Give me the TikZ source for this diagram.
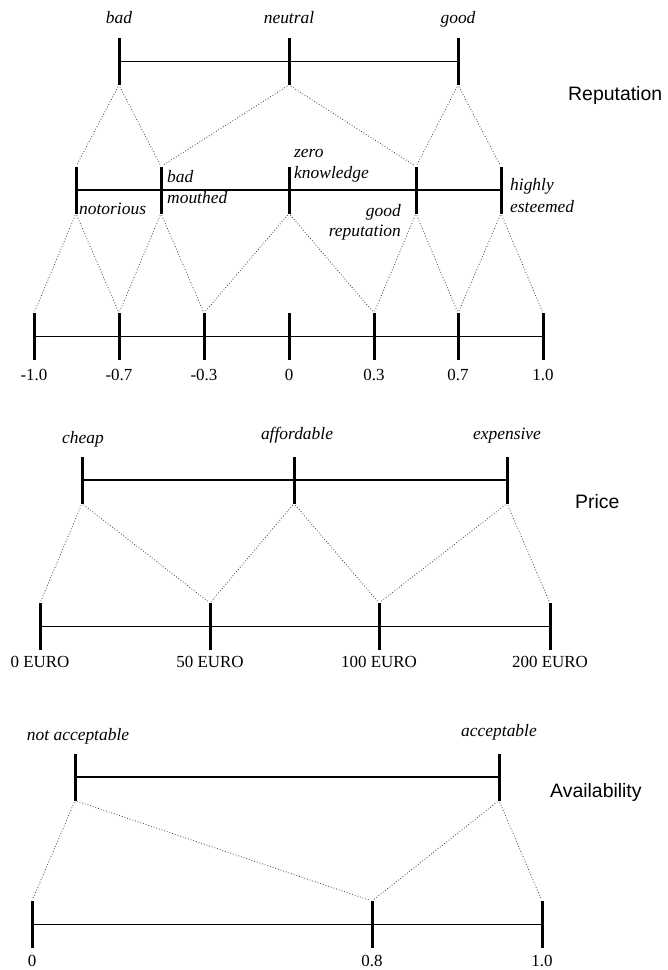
\documentclass[tikz,border=0pt]{standalone}
\usepackage{fontspec}
\setmainfont{Liberation Serif}
\newfontfamily\labsans{Liberation Sans}
\begin{document}
\begin{tikzpicture}[x=1bp,y=-1bp,
  tickbar/.style={fill=black, draw=none, inner sep=0pt, outer sep=0pt, minimum width=3bp, minimum height=47bp},
  scaleline/.style={line width=1.8bp},
  mapline/.style={dotted, line width=0.8bp, black!75, shorten <=2bp, shorten >=2bp},
  term/.style={font=\fontsize{17.5}{20}\selectfont\itshape, inner sep=0pt, anchor=base},
  terml/.style={term, anchor=base west},
  termr/.style={term, anchor=base east},
  num/.style={font=\fontsize{17}{20}\selectfont, inner sep=0pt, anchor=base},
  varname/.style={font=\labsans\fontsize{19.5}{22}\selectfont, inner sep=0pt, anchor=base west}]
\useasboundingbox[fill=white] (0,0) rectangle (668,970);

% ---------------- Reputation ----------------
\node[tickbar] (rBad)  at (119,61.5) {};
\node[tickbar] (rNeu)  at (289,61.5) {};
\node[tickbar] (rGood) at (458,61.5) {};
\draw[scaleline] (rBad.center) -- (rGood.center);
\node[term] (lBad)  at (119,23) {bad};
\node[term] (lNeu)  at (289,23) {neutral};
\node[term] (lGood) at (458,23) {good};
\node[varname] (vRep) at (568,100) {Reputation};

\node[tickbar] (mNot)  at (76,190) {};
\node[tickbar] (mBad)  at (161,190) {};
\node[tickbar] (mZero) at (289,190) {};
\node[tickbar] (mGood) at (416,190) {};
\node[tickbar] (mHigh) at (501,190) {};
\draw[scaleline] (mNot.center) -- (mHigh.center);
\node[terml] (lNot)  at (79,214) {notorious};
\node[terml] (lBm1)  at (167,182) {bad};
\node[terml] (lBm2)  at (167,203) {mouthed};
\node[terml] (lZk1)  at (294,157) {zero};
\node[terml] (lZk2)  at (294,178) {knowledge};
\node[termr] (lGr1)  at (401,216) {good};
\node[termr] (lGr2)  at (401,236) {reputation};
\node[terml] (lHe1)  at (510,190) {highly};
\node[terml] (lHe2)  at (510,212) {esteemed};

\node[tickbar] (b1) at (34,336.5) {};
\node[tickbar] (b2) at (119,336.5) {};
\node[tickbar] (b3) at (204,336.5) {};
\node[tickbar] (b4) at (289,336.5) {};
\node[tickbar] (b5) at (374,336.5) {};
\node[tickbar] (b6) at (458,336.5) {};
\node[tickbar] (b7) at (543,336.5) {};
\draw[scaleline] (b1.center) -- (b7.center);
\node[num] (n1) at (34,380) {-1.0};
\node[num] (n2) at (119,380) {-0.7};
\node[num] (n3) at (204,380) {-0.3};
\node[num] (n4) at (289,380) {0};
\node[num] (n5) at (374,380) {0.3};
\node[num] (n6) at (458,380) {0.7};
\node[num] (n7) at (543,380) {1.0};

\draw[mapline] (rBad.south) -- (mNot.north);
\draw[mapline] (rBad.south) -- (mBad.north);
\draw[mapline] (rNeu.south) -- (mBad.north);
\draw[mapline] (rNeu.south) -- (mGood.north);
\draw[mapline] (rGood.south) -- (mGood.north);
\draw[mapline] (rGood.south) -- (mHigh.north);

\draw[mapline] (mNot.south) -- (b1.north);
\draw[mapline] (mNot.south) -- (b2.north);
\draw[mapline] (mBad.south) -- (b2.north);
\draw[mapline] (mBad.south) -- (b3.north);
\draw[mapline] (mZero.south) -- (b3.north);
\draw[mapline] (mZero.south) -- (b5.north);
\draw[mapline] (mGood.south) -- (b5.north);
\draw[mapline] (mGood.south) -- (b6.north);
\draw[mapline] (mHigh.south) -- (b6.north);
\draw[mapline] (mHigh.south) -- (b7.north);

% ---------------- Price ----------------
\node[tickbar] (pCheap) at (82,480) {};
\node[tickbar] (pAff)   at (294,480) {};
\node[tickbar] (pExp)   at (507,480) {};
\draw[scaleline] (pCheap.center) -- (pExp.center);
\node[term] (lCheap) at (83,443) {cheap};
\node[term] (lAff)   at (297,439) {affordable};
\node[term] (lExp)   at (507,439) {expensive};
\node[varname] (vPrice) at (575,508) {Price};

\node[tickbar] (e0)   at (40,626.5) {};
\node[tickbar] (e50)  at (210,626.5) {};
\node[tickbar] (e100) at (379,626.5) {};
\node[tickbar] (e200) at (550,626.5) {};
\draw[scaleline] (e0.center) -- (e200.center);
\node[num] (ne0)   at (40,667) {0 EURO};
\node[num] (ne50)  at (210,667) {50 EURO};
\node[num] (ne100) at (379,667) {100 EURO};
\node[num] (ne200) at (550,667) {200 EURO};

\draw[mapline] (pCheap.south) -- (e0.north);
\draw[mapline] (pCheap.south) -- (e50.north);
\draw[mapline] (pAff.south) -- (e50.north);
\draw[mapline] (pAff.south) -- (e100.north);
\draw[mapline] (pExp.south) -- (e100.north);
\draw[mapline] (pExp.south) -- (e200.north);

% ---------------- Availability ----------------
\node[tickbar] (aNot) at (75,777) {};
\node[tickbar] (aAcc) at (499,777) {};
\draw[scaleline] (aNot.center) -- (aAcc.center);
\node[term] (lNa) at (78,740) {not acceptable};
\node[term] (lAc) at (499,736) {acceptable};
\node[varname] (vAv) at (550,797) {Availability};

\node[tickbar] (v0)  at (32,924.5) {};
\node[tickbar] (v08) at (372,924.5) {};
\node[tickbar] (v1)  at (542,924.5) {};
\draw[scaleline] (v0.center) -- (v1.center);
\node[num] (nv0)  at (32,966) {0};
\node[num] (nv08) at (372,966) {0.8};
\node[num] (nv1)  at (542,966) {1.0};

\draw[mapline] (aNot.south) -- (v0.north);
\draw[mapline] (aNot.south) -- (v08.north);
\draw[mapline] (aAcc.south) -- (v08.north);
\draw[mapline] (aAcc.south) -- (v1.north);
\end{tikzpicture}
\end{document}
